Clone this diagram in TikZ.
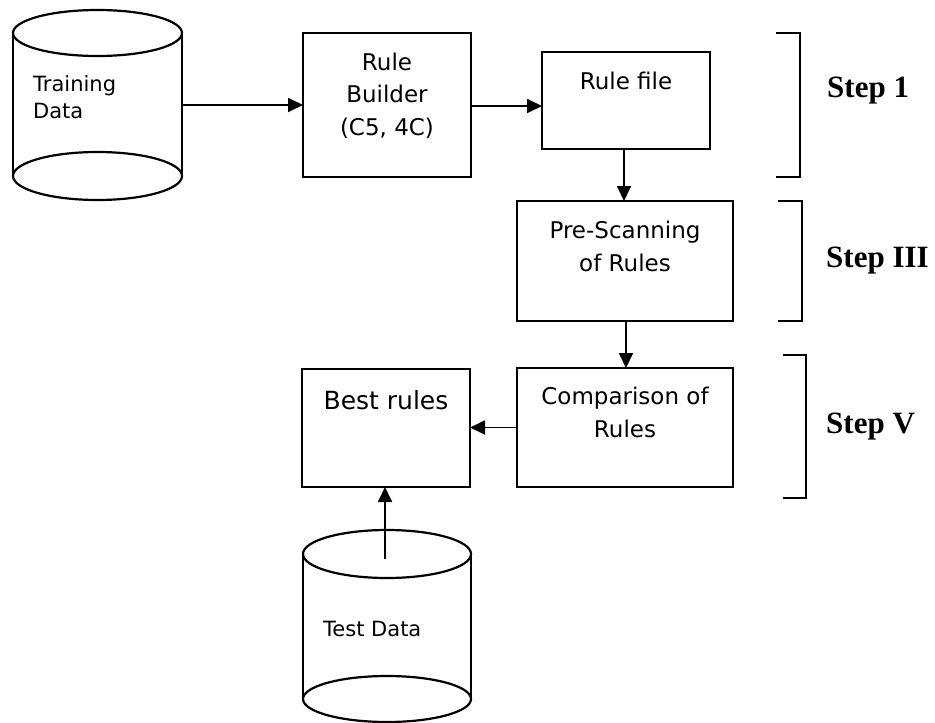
\documentclass[tikz,border=0pt]{standalone}
\usepackage{fontspec}
\setmainfont{DejaVu Sans}
\newfontfamily\stepfont{Liberation Serif}
\usetikzlibrary{arrows.meta}
\begin{document}
\begin{tikzpicture}[x=1pt,y=-1pt,
  outline/.style={line width=2.2pt},
  procbox/.style={draw, outline, inner sep=0pt, outer sep=0pt},
  boxtext/.style={inner sep=0pt, align=center, font=\fontsize{23pt}{32.5pt}\selectfont},
  besttext/.style={inner sep=0pt, font=\fontsize{25pt}{30pt}\selectfont},
  cyltext/.style={inner sep=0pt, align=left, font=\fontsize{21pt}{27pt}\selectfont},
  steptext/.style={inner sep=0pt, font=\stepfont\bfseries\fontsize{31pt}{36pt}\selectfont},
  conn/.style={-{Triangle[length=15pt,width=14pt]}, line width=1.8pt},
  bracket/.style={line width=2.2pt}]
\useasboundingbox (0,0) rectangle (935,723);

% Training data cylinder
\draw[outline] (13,33) -- (13,176) (182,33) -- (182,176);
\draw[outline] (97.5,33) ellipse [x radius=84.5pt, y radius=23pt];
\draw[outline] (97.5,176) ellipse [x radius=84.5pt, y radius=24pt];
\node[inner sep=0pt, outer sep=0pt, minimum width=169pt, minimum height=143pt] (train) at (97.5,105) {};
% multi-line nodes: the base anchor sits on the last line
\node[cyltext, anchor=base west] (trainT) at (33,118) {Training\\Data};

% Test data cylinder
\draw[outline] (303,554) -- (303,699) (471,554) -- (471,699);
\draw[outline] (387,554) ellipse [x radius=84pt, y radius=24pt];
\draw[outline] (387,699) ellipse [x radius=84pt, y radius=23pt];
\coordinate (testtop) at (385,559);
\node[cyltext, anchor=base west] (testT) at (323,636) {Test Data};

% Process boxes
\node[procbox, minimum width=168pt, minimum height=144pt] (builder) at (387,105) {};
\node[boxtext, anchor=base] (builderT) at (387,135) {Rule\\Builder\\(C5, 4C)};

\node[procbox, minimum width=168pt, minimum height=97pt] (rulefile) at (626,100.5) {};
\node[boxtext, anchor=base] (rulefileT) at (626,89) {Rule file};

\node[procbox, minimum width=216pt, minimum height=120pt] (prescan) at (625,261) {};
\node[boxtext, anchor=base] (prescanT) at (625,271) {Pre-Scanning\\of Rules};

\node[procbox, minimum width=216pt, minimum height=119pt] (compare) at (625,427.5) {};
\node[boxtext, anchor=base] (compareT) at (625,437) {Comparison of\\Rules};

\node[procbox, minimum width=168pt, minimum height=118pt] (best) at (386,428) {};
\node[besttext, anchor=base] (bestT) at (386,409) {Best rules};

% Connectors
\draw[conn] (train.east) -- (builder.west);
\draw[conn] ([yshift=-1pt]builder.east) -- ([yshift=-1pt]builder.east -| rulefile.west);
\draw[conn] ([xshift=-2pt]rulefile.south) -- ([xshift=-2pt]rulefile.south |- prescan.north);
\draw[conn] ([xshift=1pt]prescan.south) -- ([xshift=1pt]prescan.south |- compare.north);
\draw[conn] (compare.west) -- (compare.west -| best.east);
\draw[conn] (testtop) -- (testtop |- best.south);

% Step brackets and labels
\draw[bracket] (776,33) -- (800,33) -- (800,177) -- (776,177);
\draw[bracket] (778,201) -- (802,201) -- (802,321) -- (778,321);
\draw[bracket] (783,355) -- (806,355) -- (806,498) -- (783,498);
\node[steptext, anchor=base west] (step1) at (827,97) {Step 1};
\node[steptext, anchor=base west] (step3) at (826,267) {Step III};
\node[steptext, anchor=base west] (step5) at (826,433) {Step V};
\end{tikzpicture}
\end{document}
